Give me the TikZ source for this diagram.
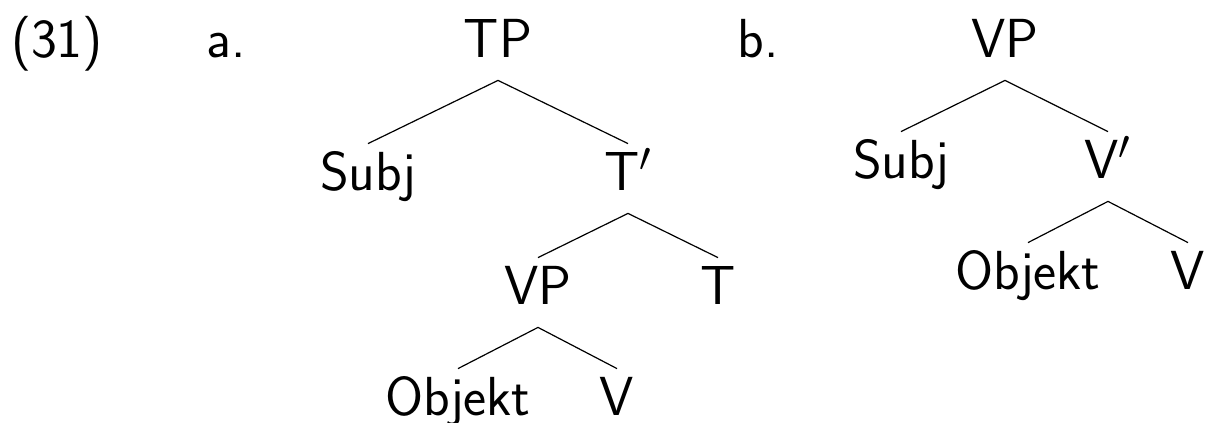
\documentclass[tikz,border=0pt]{standalone}
\usepackage{fontspec}
\begin{document}
\begin{tikzpicture}[x=0.5pt,y=-0.5pt,
  lab/.style={inner sep=0pt, anchor=base, font=\fontsize{27.5}{30}\selectfont\sffamily, text height=23pt, text depth=11.5pt},
  branch/.style={line width=0.6pt}]
\useasboundingbox (0,0) rectangle (1212,423);
% labels
\node[lab] (num) at (57,57) {(31)};
\node[lab] (la) at (226,57) {a.};
\node[lab] (lb) at (758,57) {b.};
% tree a
\node[lab] (TP) at (498,57) {TP};
\node[lab] (Subja) at (368,190) {Subj};
\node[lab] (Tbar) at (628,190) {T$'$};
\node[lab] (VPa) at (538,304) {VP};
\node[lab] (T) at (718,304) {T};
\node[lab] (Obja) at (458,415) {Objekt};
\node[lab] (Va) at (617,415) {V};
\draw[branch] (TP.south) -- (Subja.north);
\draw[branch] (TP.south) -- (Tbar.north);
\draw[branch] (Tbar.south) -- (VPa.north);
\draw[branch] (Tbar.south) -- (T.north);
\draw[branch] (VPa.south) -- (Obja.north);
\draw[branch] (VPa.south) -- (Va.north);
% tree b
\node[lab] (VPb) at (1005,57) {VP};
\node[lab] (Subjb) at (901,178) {Subj};
\node[lab] (Vbar) at (1108,178) {V$'$};
\node[lab] (Objb) at (1028,289) {Objekt};
\node[lab] (Vb) at (1188,289) {V};
\draw[branch] (VPb.south) -- (Subjb.north);
\draw[branch] (VPb.south) -- (Vbar.north);
\draw[branch] (Vbar.south) -- (Objb.north);
\draw[branch] (Vbar.south) -- (Vb.north);
\end{tikzpicture}
\end{document}
